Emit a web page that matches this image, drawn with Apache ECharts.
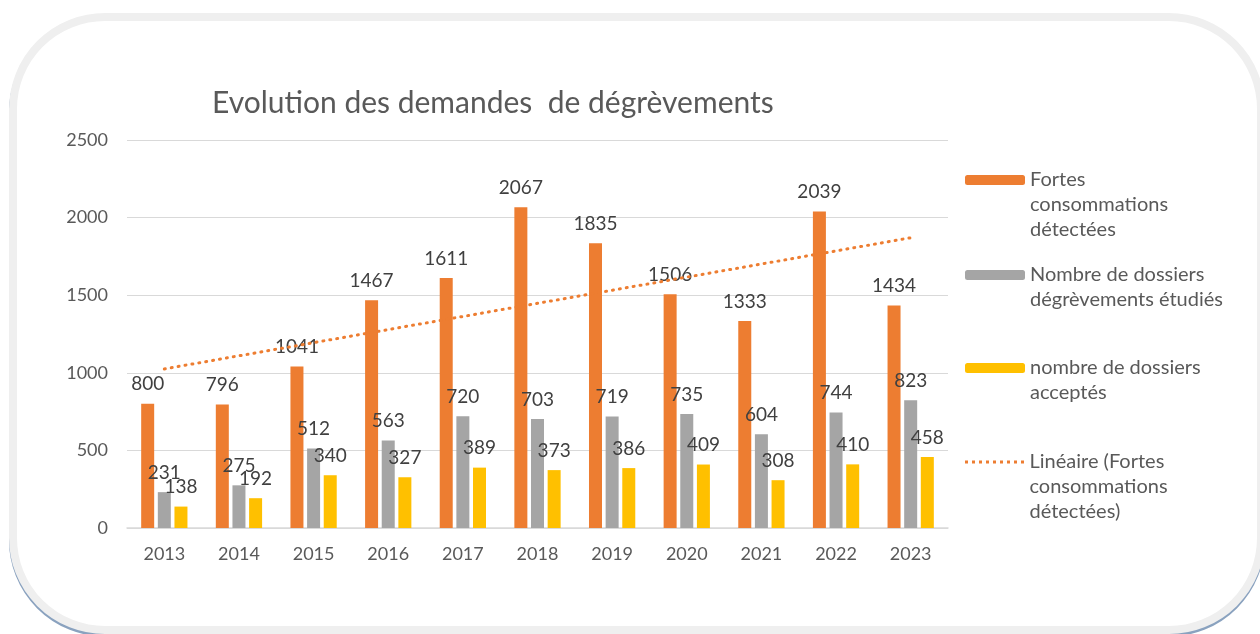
<!DOCTYPE html>
<html>
<head>
<meta charset="utf-8">
<script src="https://cdn.jsdelivr.net/npm/echarts@6/dist/echarts.min.js"></script>
<style>
  html, body { margin: 0; padding: 0; background: #fff; }
  #chart { width: 1260px; height: 634px; }
</style>
</head>
<body>
<div id="chart"></div>
<script>
// données
var years = ['2013', '2014', '2015', '2016', '2017', '2018', '2019', '2020', '2021', '2022', '2023'];
var fortesConso = [800, 796, 1041, 1467, 1611, 2067, 1835, 1506, 1333, 2039, 1434];
var dossiersEtudies = [231, 275, 512, 563, 720, 703, 719, 735, 604, 744, 823];
var dossiersAcceptes = [138, 192, 340, 327, 389, 373, 386, 409, 308, 410, 458];
// tendance linéaire : extrémités
var trendStart = 1025;
var trendEnd = 1870;
var yTicks = [0, 500, 1000, 1500, 2000, 2500];

var seriesNames = [
  'Fortes consommations détectées',
  'Nombre de dossiers dégrèvements étudiés',
  'nombre de dossiers acceptés',
  'Linéaire (Fortes consommations détectées)'
];
var legendLabels = [
  'Fortes\nconsommations\ndétectées',
  'Nombre de dossiers\ndégrèvements étudiés',
  'nombre de dossiers\nacceptés',
  'Linéaire (Fortes\nconsommations\ndétectées)'
];

var FONT = 'Lato, "Open Sans", sans-serif';
var LH = 25;

// icône pointillée pour la légende de la tendance
var dotsPath = 'path://';
for (var d = 0; d < 9; d++) {
  dotsPath += 'M' + (d * 7) + ',0h3v3h-3z';
}

// une légende par série : le texte est centré sur l'icône, donc on ajoute
// des lignes vides devant pour que la première ligne soit à hauteur de l'icône
function legendFor(i, iconCenter, opts) {
  var lines = legendLabels[i].split('\n').length;
  var pre = '';
  for (var k = 1; k < lines; k++) pre += '\n';
  var boxH = (2 * lines - 1) * LH;
  var ih = (opts && opts.itemHeight) || 10;
  var item = { name: seriesNames[i] };
  if (opts && opts.icon) item.icon = opts.icon;
  return {
    orient: 'vertical',
    left: 965,
    top: iconCenter - boxH / 2,
    padding: 0,
    itemWidth: 60,
    itemHeight: ih,
    data: [item],
    formatter: function () { return pre + legendLabels[i]; },
    textStyle: { fontFamily: FONT, fontSize: 20, color: '#595959', lineHeight: LH }
  };
}

var labelStyle = {
  show: true, position: 'top', distance: 10,
  fontFamily: FONT, fontSize: 19, color: '#404040'
};

var chart = echarts.init(document.getElementById('chart'));
chart.setOption({
  backgroundColor: '#fff',
  animation: false,
  graphic: [
    {
      type: 'rect', z: -11,
      shape: { x: 13, y: 19.5, width: 1248, height: 613, r: 92 },
      style: { fill: 'none', stroke: '#8aa2bf', lineWidth: 8 }
    },
    {
      type: 'rect', z: -10,
      shape: { x: 13, y: 17, width: 1248, height: 613, r: 92 },
      style: { fill: '#fff', stroke: '#efefef', lineWidth: 8 }
    }
  ],
  title: {
    text: 'Evolution des demandes  de dégrèvements',
    left: 207, top: 83,
    textStyle: { fontFamily: FONT, fontSize: 30, fontWeight: 'normal', color: '#595959' }
  },
  legend: [
    legendFor(0, 180),
    legendFor(1, 275),
    legendFor(2, 368),
    legendFor(3, 462, { icon: dotsPath, itemHeight: 3 })
  ],
  grid: { left: 127, right: 312, top: 140, bottom: 106 },
  xAxis: {
    type: 'category',
    data: years,
    axisLine: { lineStyle: { color: '#d9d9d9', width: 1.5 } },
    axisTick: { show: false },
    axisLabel: { fontFamily: FONT, fontSize: 18, color: '#595959', margin: 17 }
  },
  yAxis: {
    type: 'value',
    min: yTicks[0], max: yTicks[yTicks.length - 1], interval: 500,
    axisLine: { show: false },
    axisTick: { show: false },
    splitLine: { lineStyle: { color: '#d9d9d9', width: 1.2 } },
    axisLabel: {
      fontFamily: FONT, fontSize: 18, color: '#595959', margin: 19,
      formatter: function (v) { return String(v); }
    }
  },
  series: [
    {
      name: seriesNames[0], type: 'bar', data: fortesConso,
      barWidth: 13, barGap: '28%',
      itemStyle: { color: '#ed7d31' }, label: labelStyle
    },
    {
      name: seriesNames[1], type: 'bar', data: dossiersEtudies,
      barWidth: 13, barGap: '28%',
      itemStyle: { color: '#a5a5a5' }, label: labelStyle
    },
    {
      name: seriesNames[2], type: 'bar', data: dossiersAcceptes,
      barWidth: 13, barGap: '28%',
      itemStyle: { color: '#ffc000' }, label: labelStyle
    },
    {
      name: seriesNames[3], type: 'line',
      data: [[years[0], trendStart], [years[years.length - 1], trendEnd]],
      symbol: 'none', z: 5,
      lineStyle: { color: '#ed7d31', width: 3, type: [1, 6], cap: 'round' },
      itemStyle: { color: '#ed7d31' }
    }
  ]
});
</script>
</body>
</html>
